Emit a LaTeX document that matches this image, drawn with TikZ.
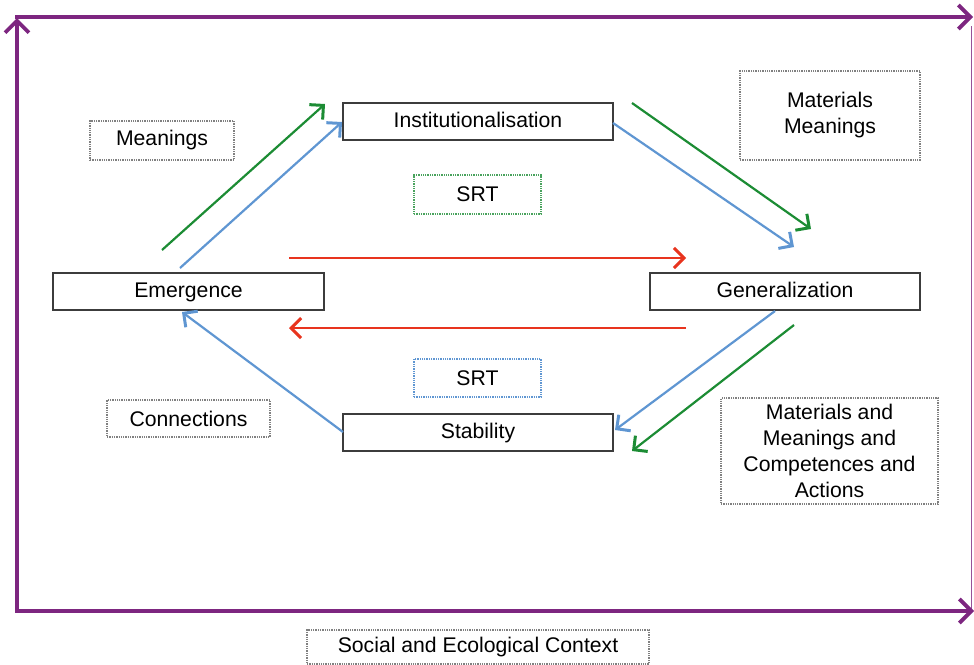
\documentclass[tikz,border=0pt]{standalone}
\usepackage{fontspec}
\setmainfont{Liberation Sans}
\usetikzlibrary{arrows.meta}
\definecolor{pur}{RGB}{125,38,128}
\definecolor{grn}{RGB}{28,140,52}
\definecolor{blu}{RGB}{95,150,210}
\definecolor{rd}{RGB}{232,52,30}
\definecolor{bx}{RGB}{60,60,60}
\tikzset{
  txt/.style={font=\fontsize{21.2}{26}\selectfont},
  solidbox/.style={txt, draw=bx, line width=1.5pt, minimum width=270pt, minimum height=37pt, inner sep=0pt, text height=15pt, text depth=4pt},
  dotbox/.style={txt, draw=gray, densely dotted, line width=1.3pt, inner sep=0pt, align=center},
  flow/.style={line width=2.2pt, -{Straight Barb[length=10pt,width=20pt,line width=3pt]}},
  frame/.style={pur, line width=3.2pt},
  framearrow/.style={frame, -{Straight Barb[length=12pt,width=24pt,line width=3.8pt]}}
}
\begin{document}
\begin{tikzpicture}[x=1pt,y=-1pt]
\useasboundingbox (0,0) rectangle (974,664);
% frame
\coordinate (c0) at (17,17);
\coordinate (ctr) at (973,17);
\coordinate (cbl) at (17,611);
\coordinate (cbr) at (974,611);
\coordinate (crt) at (971.5,26);
\coordinate (crb) at (971.5,609);
\draw[pur, line width=1.2pt, opacity=0.8] (crt) -- (crb);
\draw[framearrow] (cbl) -- ([yshift=-1pt]c0);
\draw[framearrow] ([xshift=-1.6pt]c0) -- (ctr);
\draw[framearrow] ([xshift=-1.6pt]cbl) -- (cbr);

% main boxes
\node[solidbox] (inst) at (478,121.5) {Institutionalisation};
\node[solidbox, minimum width=271pt] (emer) at (188.5,291.5) {Emergence};
\node[solidbox] (gen) at (785,291.5) {Generalization};
\node[solidbox] (stab) at (478,432.5) {Stability};

% dotted boxes
\node[dotbox, minimum width=144pt, minimum height=39pt] (mean) at (162,140.5) {Meanings};
\node[dotbox, minimum width=180pt, minimum height=89pt] (matmean) at (830,115.5) {};
\node[txt, align=center, inner sep=0pt] (matmeantxt) at (matmean.center) {Materials\\Meanings};
\node[dotbox, draw=grn!80, minimum width=127pt, minimum height=39pt] (srt1) at (477.5,194.5) {SRT};
\node[dotbox, draw=blu, minimum width=127pt, minimum height=38pt] (srt2) at (477.5,378) {SRT};
\node[dotbox, minimum width=163pt, minimum height=37pt] (conn) at (188.5,418.5) {Connections};
\node[dotbox, minimum width=217pt, minimum height=106pt] (mmca) at (829.5,451) {Materials and\\Meanings and\\Competences and\\Actions};
\node[dotbox, minimum width=342pt, minimum height=34pt] (social) at (478,647) {Social and Ecological Context};

% arrow endpoints
\coordinate (g1s) at (162,250);  \coordinate (g1e) at (325,104);
\coordinate (b1s) at (180,268);  \coordinate (b1e) at (342,122);
\coordinate (g2s) at (632,103);  \coordinate (g2e) at (811,229);
\coordinate (b2s) at (613,123);  \coordinate (b2e) at (794,247);
\coordinate (r1s) at (289,258);  \coordinate (r1e) at (686,258);
\coordinate (r2s) at (686,328);  \coordinate (r2e) at (289,328);
\coordinate (b3s) at (775,311);  \coordinate (b3e) at (615,430);
\coordinate (g3s) at (794,325);  \coordinate (g3e) at (632,451);
\coordinate (b4s) at (343,432);  \coordinate (b4e) at (182,312);

\draw[flow, grn] (g1s) -- (g1e);
\draw[flow, blu] (b1s) -- (b1e);
\draw[flow, grn] (g2s) -- (g2e);
\draw[flow, blu] (b2s) -- (b2e);
\draw[flow, rd] (r1s) -- (r1e);
\draw[flow, rd] (r2s) -- (r2e);
\draw[flow, blu] (b3s) -- (b3e);
\draw[flow, grn] (g3s) -- (g3e);
\draw[flow, blu] (b4s) -- (b4e);
\end{tikzpicture}
\end{document}
